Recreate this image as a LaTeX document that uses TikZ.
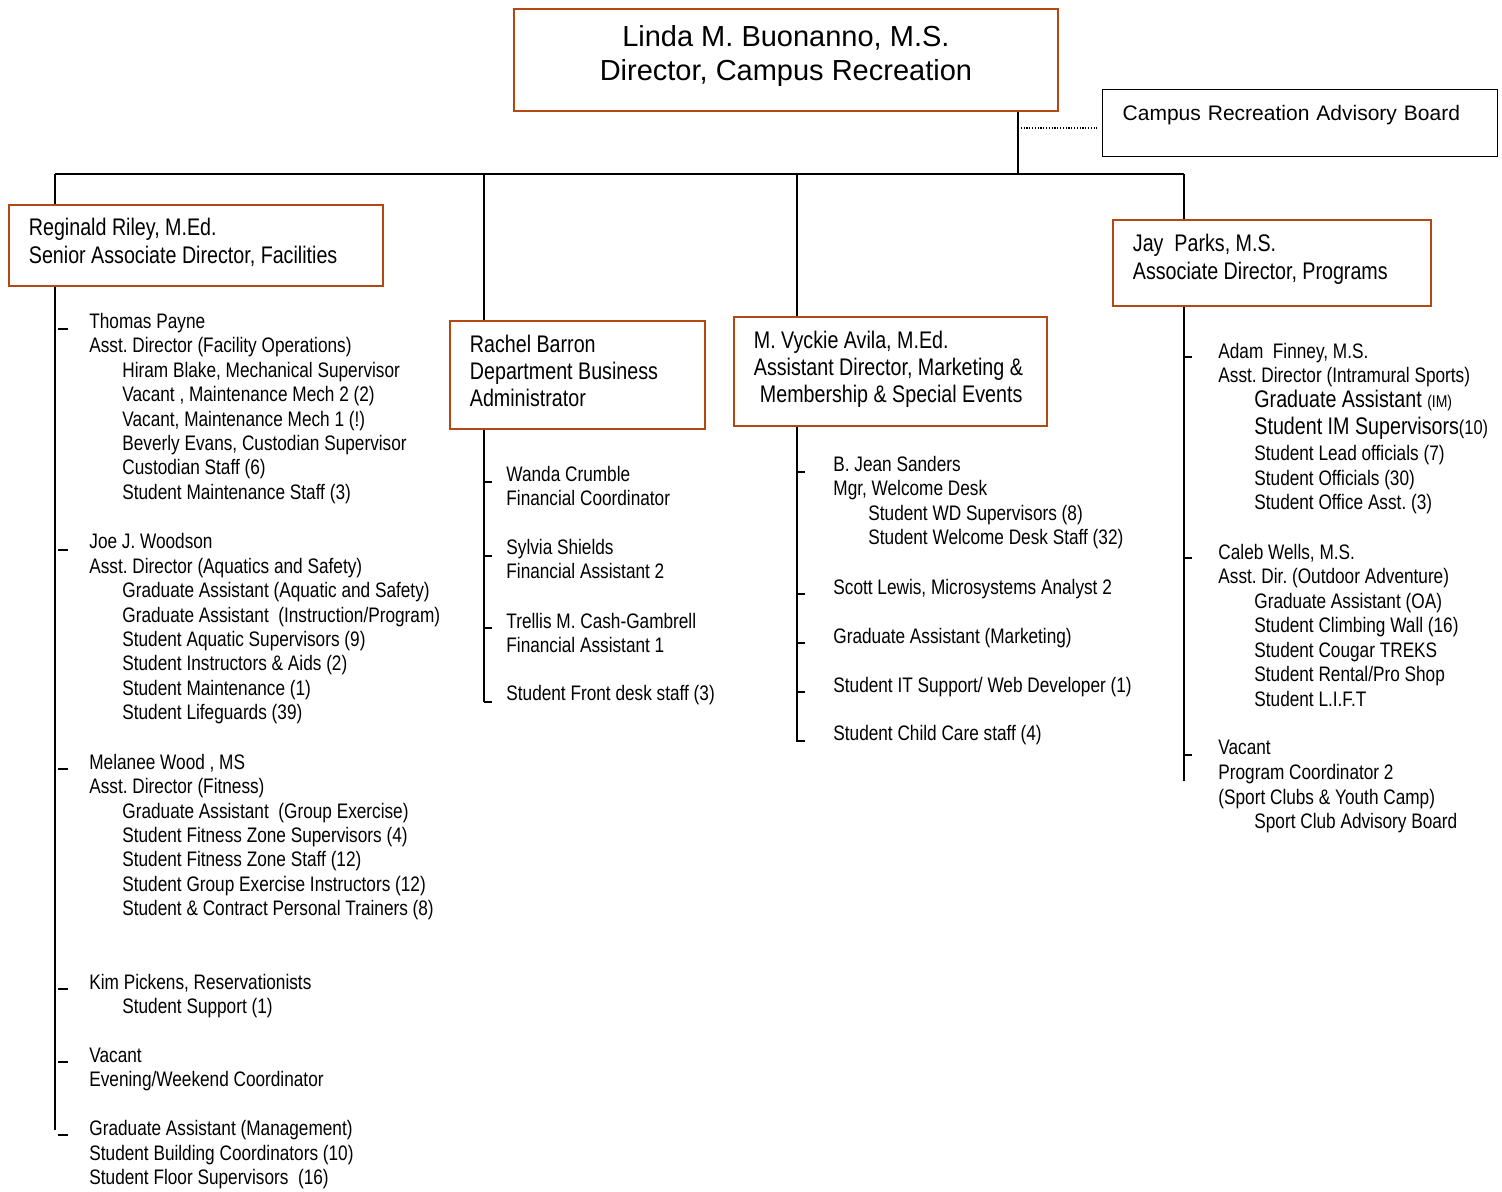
\documentclass[tikz,border=0pt]{standalone}
\usepackage{fontspec}
\setmainfont{Liberation Sans}[FakeStretch=0.82]
\newfontfamily\widefont{Liberation Sans}
\definecolor{boxbrown}{RGB}{178,72,20}
\frenchspacing

\begin{document}
\begin{tikzpicture}[x=0.5pt, y=-0.5pt,
        conn/.style={line width=0.8pt},
        tick/.style={line width=0.6pt},
        boss/.style={draw=boxbrown, line width=0.9pt, anchor=north west, inner xsep=10pt, inner ysep=0pt,
            align=flush left, font=\fontsize{12}{14}\selectfont},
        boxdim/.style 2 args={text height=#1, text depth=#2},
        item/.style={anchor=base west, inner sep=0pt, font=\fontsize{10.5}{12.25}\selectfont}]
        \useasboundingbox (0,0) rectangle (1502,1191);

        \node[boss, align=flush center, text width=252pt, boxdim={18.75pt}{32.25pt},
            font=\widefont\fontsize{14.5}{17}\selectfont] (dir) at (513,8)
            {Linda M. Buonanno, M.S.\\Director, Campus Recreation};
        \node[draw, line width=0.7pt, anchor=north west, inner xsep=10pt, inner ysep=0pt, text width=177.5pt,
            boxdim={15.25pt}{18.25pt}, font=\widefont\fontsize{10.5}{12}\selectfont] (board) at (1102,89)
            {Campus Recreation Advisory Board};

        \node[boss, text width=167pt, boxdim={15.25pt}{25.25pt}] (riley) at (8,204)
            {Reginald Riley, M.Ed.\\Senior Associate Director, Facilities};
        \node[boss, text width=107.5pt, boxdim={15.75pt}{38.25pt}, font=\fontsize{12}{13.5}\selectfont] (barron) at (449,320)
            {Rachel Barron\\Department Business\\Administrator};
        \node[boss, text width=136.5pt, boxdim={15.75pt}{38.75pt}, font=\fontsize{12}{13.5}\selectfont] (avila) at (733,316)
            {M. Vyckie Avila, M.Ed.\\\mbox{Assistant Director, Marketing \&}\\\hspace*{3pt}Membership \& Special Events};
        \node[boss, text width=139pt, boxdim={15.75pt}{27.25pt}] (parks) at (1112,219)
            {Jay\ \ Parks, M.S.\\Associate Director, Programs};

        \coordinate (jn) at (1018,174);
        \coordinate (dt) at (1018,128);
        \coordinate (b1) at (55,174);
        \coordinate (b2) at (484,174);
        \coordinate (b3) at (797,174);
        \coordinate (b4) at (1184,174);
        \coordinate (e1) at (55,1130);
        \coordinate (e2) at (484,702);
        \coordinate (e3) at (797,742);
        \coordinate (e4) at (1184,781);

        \draw[conn] (dir.south -| jn) -- (jn);
        \draw[conn] (b1) -- (b4);
        \draw[line width=0.7pt, dash pattern=on 0.6pt off 0.8pt] (dt) -- ([xshift=-2.5pt]board.west |- dt);
        \foreach \b/\n/\e in {b1/riley/e1, b2/barron/e2, b3/avila/e3, b4/parks/e4}
            {\draw[conn] (\b) -- (\n.north -| \b);
             \draw[conn] (\n.south -| \b) -- (\e);}

        \foreach \y in {329,550,769,989,1062,1135}
            {\draw[tick] (58,\y) -- (68,\y);}
        \foreach \y in {482,556,628,702}
            {\draw[tick] (484,\y) -- (492,\y);}
        \foreach \y in {472,594,643,692,741}
            {\draw[tick] (797,\y) -- (805,\y);}
        \foreach \y in {357,558,755}
            {\draw[tick] (1184,\y) -- (1192,\y);}

        \foreach \y/\x/\t [count=\i] in {328/89/Thomas Payne, 352/89/Asst. Director (Facility Operations),
                377/122/{Hiram Blake, Mechanical Supervisor}, 401/122/{Vacant , Maintenance Mech 2 (2)},
                426/122/{Vacant, Maintenance Mech 1 (!)}, 450/122/{Beverly Evans, Custodian Supervisor},
                474/122/Custodian Staff (6), 499/122/Student Maintenance Staff (3),
                548/89/Joe J. Woodson, 573/89/Asst. Director (Aquatics and Safety),
                597/122/Graduate Assistant (Aquatic and Safety), 622/122/{Graduate Assistant\ \ (Instruction/Program)},
                646/122/Student Aquatic Supervisors (9), 670/122/Student Instructors \& Aids (2),
                695/122/Student Maintenance (1), 719/122/Student Lifeguards (39),
                769/89/{Melanee Wood , MS}, 793/89/Asst. Director (Fitness),
                818/122/Graduate Assistant\ \ (Group Exercise), 842/122/Student Fitness Zone Supervisors (4),
                866/122/Student Fitness Zone Staff (12), 891/122/Student Group Exercise Instructors (12),
                915/122/Student \& Contract Personal Trainers (8),
                989/89/{Kim Pickens, Reservationists}, 1013/122/Student Support (1),
                1062/89/Vacant, 1086/89/{Evening/Weekend Coordinator},
                1135/89/Graduate Assistant (Management), 1160/89/Student Building Coordinators (10),
                1184/89/Student Floor Supervisors\ \ (16)}
            {\node[item] (fac\i) at (\x,\y) {\t};}

        \foreach \y/\t [count=\i] in {481/Wanda Crumble, 505/Financial Coordinator,
                554/Sylvia Shields, 578/Financial Assistant 2,
                628/Trellis M. Cash-Gambrell, 652/Financial Assistant 1,
                700/Student Front desk staff (3)}
            {\node[item] (bus\i) at (506,\y) {\t};}

        \foreach \y/\x/\t [count=\i] in {471/833/B. Jean Sanders, 495/833/{Mgr, Welcome Desk},
                520/868/Student WD Supervisors (8), 544/868/Student Welcome Desk Staff (32),
                594/833/{Scott Lewis, Microsystems Analyst 2}, 643/833/Graduate Assistant (Marketing),
                692/833/{Student IT Support/ Web Developer (1)}, 740/833/Student Child Care staff (4)}
            {\node[item] (mkt\i) at (\x,\y) {\t};}

        \foreach \y/\x/\t [count=\i] in {358/1218/{Adam\ \ Finney, M.S.}, 382/1218/Asst. Director (Intramural Sports),
                407/1254/{\fontsize{12}{14}\selectfont Graduate Assistant \fontsize{8.5}{10}\selectfont(IM)},
                434/1254/{\fontsize{12}{14}\selectfont Student IM Supervisors\fontsize{10}{12}\selectfont(10)},
                460/1254/Student Lead officials (7), 485/1254/Student Officials (30),
                509/1254/Student Office Asst. (3),
                559/1218/{Caleb Wells, M.S.}, 583/1218/Asst. Dir. (Outdoor Adventure),
                608/1254/Graduate Assistant (OA), 632/1254/Student Climbing Wall (16),
                657/1254/Student Cougar TREKS, 681/1254/{Student Rental/Pro Shop},
                706/1254/Student L.I.F.T,
                754/1218/Vacant, 779/1218/Program Coordinator 2,
                804/1218/(Sport Clubs \& Youth Camp), 828/1254/Sport Club Advisory Board}
            {\node[item] (prg\i) at (\x,\y) {\t};}
\end{tikzpicture}
\end{document}
